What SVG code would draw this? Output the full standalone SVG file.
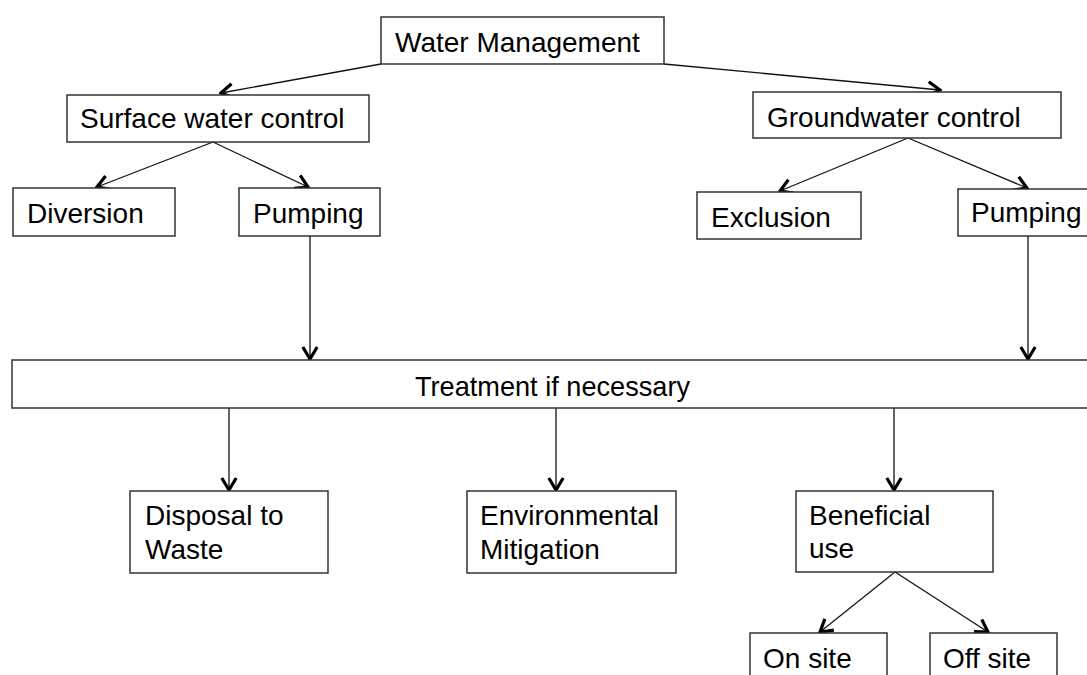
<svg xmlns="http://www.w3.org/2000/svg" width="1087" height="675" viewBox="0 0 1087 675">
<style>
.box{fill:#fff;stroke:#333;stroke-width:1.5}
.t{font-family:"Liberation Sans",Arial,sans-serif;font-size:28px;fill:#000}
.c{stroke:#111;stroke-width:1.3;fill:none;marker-end:url(#ah)}
</style>
<defs>
<marker id="ah" viewBox="0 0 16 18" refX="14" refY="9" markerWidth="16" markerHeight="18" markerUnits="userSpaceOnUse" orient="auto">
<path d="M2,1.8 L14,9 L2,16.2" fill="none" stroke="#000" stroke-width="3.2" stroke-linejoin="miter"/>
</marker>
</defs>
<rect width="1087" height="675" fill="#fff"/>
<g id="connectors">
<line class="c" x1="381" y1="64" x2="221" y2="93"/>
<line class="c" x1="664" y1="64" x2="940" y2="90"/>
<line class="c" x1="213" y1="142" x2="97" y2="187"/>
<line class="c" x1="213" y1="142" x2="308" y2="187"/>
<line class="c" x1="908" y1="138" x2="780" y2="191"/>
<line class="c" x1="908" y1="138" x2="1027" y2="188"/>
<line class="c" x1="310" y1="236" x2="310" y2="359"/>
<line class="c" x1="1028" y1="236" x2="1028" y2="359"/>
<line class="c" x1="229" y1="408" x2="229" y2="490"/>
<line class="c" x1="556" y1="408" x2="556" y2="490"/>
<line class="c" x1="894" y1="408" x2="894" y2="490"/>
<line class="c" x1="895" y1="572" x2="820" y2="632"/>
<line class="c" x1="895" y1="572" x2="988" y2="632"/>
</g>
<g id="water-management"><rect class="box" x="381" y="17" width="283" height="47"/><text class="t" x="395" y="52">Water Management</text></g>
<g id="surface-water-control"><rect class="box" x="67" y="95" width="302" height="47"/><text class="t" x="80" y="128">Surface water control</text></g>
<g id="groundwater-control"><rect class="box" x="753" y="92" width="308" height="46"/><text class="t" x="767" y="127">Groundwater control</text></g>
<g id="diversion"><rect class="box" x="13" y="188" width="162" height="48"/><text class="t" x="27" y="223">Diversion</text></g>
<g id="pumping-surface"><rect class="box" x="239" y="188" width="141" height="48"/><text class="t" x="253" y="223">Pumping</text></g>
<g id="exclusion"><rect class="box" x="697" y="192" width="164" height="47"/><text class="t" x="711" y="227">Exclusion</text></g>
<g id="pumping-ground"><rect class="box" x="958" y="189" width="140" height="47"/><text class="t" x="971" y="222">Pumping</text></g>
<g id="treatment"><rect class="box" x="12" y="360" width="1090" height="48"/><text class="t" x="415" y="396" textLength="275" lengthAdjust="spacingAndGlyphs">Treatment if necessary</text></g>
<g id="disposal"><rect class="box" x="130" y="491" width="198" height="82"/><text class="t" x="145" y="525">Disposal to</text><text class="t" x="145" y="559">Waste</text></g>
<g id="environmental"><rect class="box" x="467" y="491" width="209" height="82"/><text class="t" x="480" y="525">Environmental</text><text class="t" x="480" y="559">Mitigation</text></g>
<g id="beneficial"><rect class="box" x="796" y="491" width="197" height="81"/><text class="t" x="809" y="525">Beneficial</text><text class="t" x="809" y="558">use</text></g>
<g id="on-site"><rect class="box" x="750" y="633" width="137" height="60"/><text class="t" x="763" y="668">On site</text></g>
<g id="off-site"><rect class="box" x="930" y="633" width="127" height="60"/><text class="t" x="943" y="668">Off site</text></g>
</svg>
